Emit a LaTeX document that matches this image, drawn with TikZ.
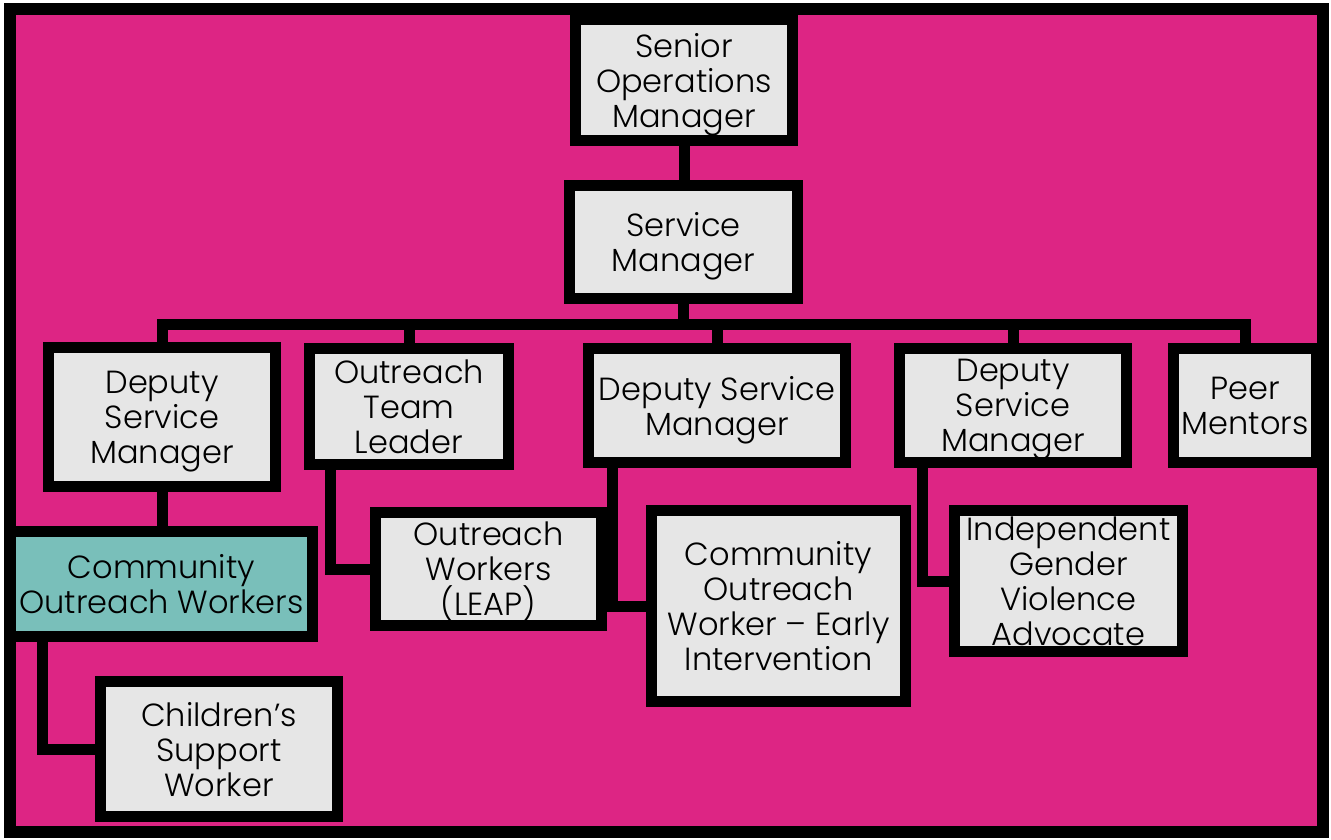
\documentclass[tikz,border=0pt]{standalone}
\usepackage{fontspec}
\setmainfont{Poppins}[UprightFont=* Light]
\definecolor{pinkbg}{HTML}{DD2584}
\definecolor{boxgray}{HTML}{E6E6E6}
\definecolor{tealbox}{HTML}{79BFBA}
\begin{document}
\begin{tikzpicture}[x=1pt,y=-1pt,
  box/.style={draw=black,line width=11pt,fill=boxgray,rectangle,inner sep=0pt,outer sep=0pt,align=center,text depth=0pt,font=\fontsize{32}{35}\selectfont},
  conn/.style={line width=11pt,draw=black}]
\useasboundingbox (0,0) rectangle (1331,840);
\fill[white] (0,0) rectangle (1331,840);
\draw[line width=12pt,fill=pinkbg] (10,9) rectangle (1323,832);
% nodes
\node[box,minimum width=217pt,minimum height=121pt] (som) at (684,80) {Senior\\Operations\\Manager};
\node[box,minimum width=228pt,minimum height=113pt] (sm) at (683.5,242) {Service\\Manager};
\node[box,minimum width=227pt,minimum height=139pt] (dsmA) at (162,417) {Deputy\\Service\\Manager};
\node[box,minimum width=199pt,minimum height=116pt] (otl) at (409,406.5) {Outreach\\Team\\Leader};
\node[box,minimum width=257pt,minimum height=114pt] (dsmB) at (717,405.5) {Deputy Service\\Manager};
\node[box,minimum width=227pt,minimum height=114pt] (dsmC) at (1013,405.5) {Deputy\\Service\\Manager};
\node[box,minimum width=143pt,minimum height=114pt] (peer) at (1245,405.5) {Peer\\Mentors};
\node[box,fill=tealbox,minimum width=302pt,minimum height=105pt] (cow) at (161.5,584) {Community\\Outreach Workers};
\node[box,minimum width=237pt,minimum height=135pt] (csw) at (219,749) {Children’s\\Support\\Worker};
\node[box,minimum width=226pt,minimum height=113pt] (leap) at (488.5,569) {Outreach\\Workers\\(LEAP)};
\node[box,minimum width=254pt,minimum height=191pt] (cowei) at (778.5,606) {Community\\Outreach\\Worker – Early\\Intervention};
\node[box,minimum width=228pt,minimum height=141pt] (igva) at (1068.5,581) {Independent\\Gender\\Violence\\Advocate};
% connectors
\coordinate (bus) at (683.5,324);
\coordinate (xcow) at (42,0);
\coordinate (xotl) at (330,0);
\coordinate (xdsmB) at (612,0);
\coordinate (xdsmC) at (922,0);
\draw[conn] (som.south) -- (som.south |- sm.north);
\draw[conn] (sm.south) -- (bus);
\draw[conn] (bus) -| (dsmA.north);
\draw[conn] (bus) -| (otl.north);
\draw[conn] (bus) -| (dsmB.north);
\draw[conn] (bus) -| (dsmC.north);
\draw[conn] (bus) -| (peer.north);
\draw[conn] (dsmA.south) -- (dsmA.south |- cow.north);
\draw[conn] (xcow |- cow.south) |- (csw.west);
\draw[conn] (xotl |- otl.south) |- (leap.west);
\draw[conn] (xdsmB |- dsmB.south) |- (cowei.west);
\draw[conn] (xdsmC |- dsmC.south) |- (igva.west);
\end{tikzpicture}
\end{document}
